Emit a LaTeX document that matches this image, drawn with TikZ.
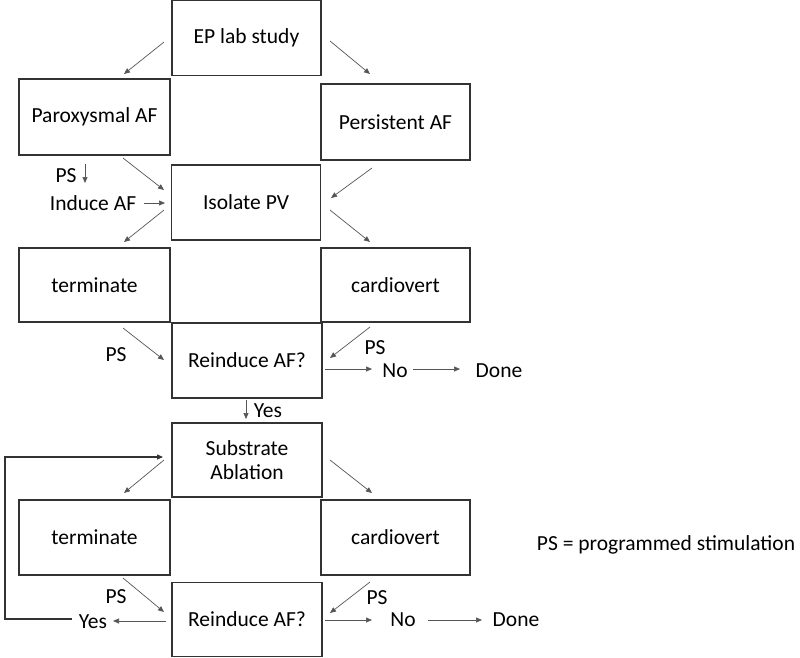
\documentclass[tikz,border=0pt]{standalone}
\usepackage{fontspec}
\setmainfont{Carlito}
\usetikzlibrary{arrows.meta}
\definecolor{boxline}{HTML}{333333}
\definecolor{arrline}{HTML}{555555}
\tikzset{
  box/.style={draw=boxline, line width=1.2pt, minimum width=149pt, minimum height=75pt, inner sep=0pt, align=center, font=\fontsize{21.5}{24}\selectfont},
  lbl/.style={inner sep=0pt, font=\fontsize{21.5}{24}\selectfont},
  arr/.style={draw=arrline, line width=0.7pt, -{Triangle[length=6pt,width=5pt]}},
  loop/.style={draw=boxline, line width=1.2pt, -{Triangle[length=6pt,width=5pt]}}
}
\begin{document}
\begin{tikzpicture}[x=1pt,y=-1pt]
\useasboundingbox (0,0) rectangle (800,657);
% boxes
\node[box] (ep) at (246.5,38) {EP lab study};
\node[box, minimum width=151pt, minimum height=76pt] (par) at (94.5,117) {Paroxysmal AF};
\node[box, minimum height=76pt] (per) at (395.5,122) {Persistent AF};
\node[box] (iso) at (246,202.5) {Isolate PV};
\node[box, minimum width=151pt, minimum height=74pt] (ter1) at (94.5,285) {terminate};
\node[box, minimum height=74pt] (car1) at (395.5,285) {cardiovert};
\node[box, minimum width=150pt] (re1) at (247,360.5) {Reinduce AF?};
\node[box, minimum width=150pt, minimum height=74pt] (sub) at (247,460) {Substrate\\Ablation};
\node[box, minimum width=151pt] (ter2) at (94.5,537.5) {terminate};
\node[box] (car2) at (395.5,537.5) {cardiovert};
\node[box, minimum width=150pt, minimum height=74pt] (re2) at (247,619.5) {Reinduce AF?};
% labels
\node[lbl] (ps0) at (66,176) {PS};
\node[lbl] (ind) at (93,203) {Induce AF};
\node[lbl] (ps1) at (116,355) {PS};
\node[lbl] (ps2) at (375,348) {PS};
\node[lbl] (no1) at (395,371) {No};
\node[lbl] (done1) at (499,371) {Done};
\node[lbl] (yes1) at (268,411) {Yes};
\node[lbl] (ps3) at (116,597) {PS};
\node[lbl] (ps4) at (377,598) {PS};
\node[lbl] (no2) at (403,620) {No};
\node[lbl] (done2) at (516,620) {Done};
\node[lbl] (yes2) at (93,622) {Yes};
\node[lbl] (legend) at (666,545) {PS = programmed stimulation};
% arrow end coordinates
\coordinate (a1s) at (164,42); \coordinate (a1e) at (124,74);
\coordinate (a2s) at (330,41); \coordinate (a2e) at (370,74);
\coordinate (a3s) at (123,158); \coordinate (a3e) at (164,190);
\coordinate (a4s) at (372,168); \coordinate (a4e) at (331,198);
\coordinate (a5s) at (85,164); \coordinate (a5e) at (85,183);
\coordinate (a6s) at (144,203); \coordinate (a6e) at (165,203);
\coordinate (a7s) at (164,210); \coordinate (a7e) at (124,242);
\coordinate (a8s) at (330,210); \coordinate (a8e) at (370,242);
\coordinate (a9s) at (123,328); \coordinate (a9e) at (164,360);
\coordinate (a10s) at (370,327); \coordinate (a10e) at (330,358);
\coordinate (a11s) at (325,369); \coordinate (a11e) at (372,369);
\coordinate (a12s) at (413,369); \coordinate (a12e) at (460,369);
\coordinate (a13s) at (246,400); \coordinate (a13e) at (246,419);
\coordinate (a14s) at (164,460); \coordinate (a14e) at (124,493);
\coordinate (a15s) at (330,460); \coordinate (a15e) at (372,493);
\coordinate (a16s) at (123,578); \coordinate (a16e) at (164,612);
\coordinate (a17s) at (370,582); \coordinate (a17e) at (330,613);
\coordinate (a18s) at (325,620); \coordinate (a18e) at (372,620);
\coordinate (a19s) at (428,620); \coordinate (a19e) at (482,620);
\coordinate (a20s) at (166,621); \coordinate (a20e) at (113,621);
\coordinate (l1) at (72,619); \coordinate (l2) at (5,619);
\coordinate (l3) at (5,457); \coordinate (l4) at (163,457);
% arrows
\foreach \i in {1,...,20} {\draw[arr] (a\i s) -- (a\i e);}
\draw[loop] (l1) -- (l2) -- (l3) -- (l4);
\end{tikzpicture}
\end{document}
